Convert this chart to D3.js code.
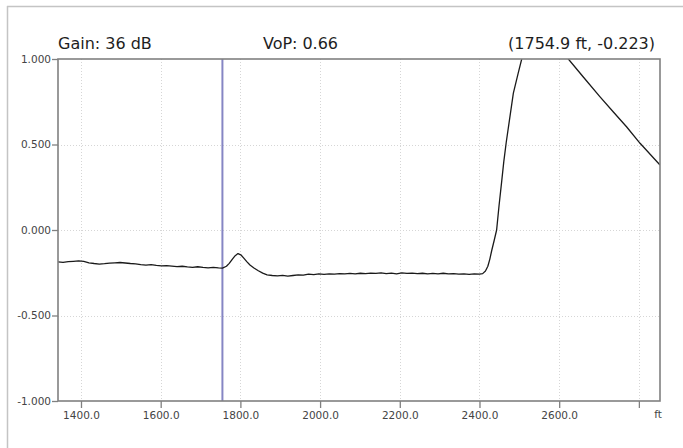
<!DOCTYPE html>
<html>
<head>
<meta charset="utf-8">
<script src="https://cdn.jsdelivr.net/npm/d3@7"></script>
<style>
  html, body { margin: 0; padding: 0; background: #fff; }
  svg { display: block; font-family: "DejaVu Sans", sans-serif; }
</style>
</head>
<body>
<svg id="chart" width="683" height="448"></svg>
<script>
// ---- data ----
const distanceFt = [
  1342, 1355, 1368, 1381, 1394, 1407, 1420, 1433, 1446, 1459, 1472, 1485, 1498, 1511, 1524, 1537,
  1550, 1563, 1576, 1589, 1602, 1615, 1628, 1641, 1654, 1667, 1680, 1693, 1706, 1719, 1732, 1745, 1755,
  1765, 1772, 1780, 1787, 1794, 1801, 1808, 1816, 1824, 1834, 1845, 1856, 1867, 1880, 1893, 1906,
  1919, 1932, 1945, 1958, 1971, 1984, 1997, 2010, 2023, 2036, 2049, 2062, 2075, 2088, 2101, 2114,
  2127, 2140, 2153, 2166, 2179, 2192, 2205, 2218, 2231, 2244, 2257, 2270, 2283, 2296, 2309, 2322,
  2335, 2348, 2361, 2374, 2387, 2400, 2408, 2415, 2421, 2426, 2431, 2437, 2443, 2449, 2456, 2461,
  2467, 2475, 2485, 2497, 2506, 2520, 2540, 2560, 2580, 2600, 2623, 2660, 2702, 2736, 2769, 2803, 2853
];
const amplitude = [
  -0.186, -0.189, -0.185, -0.183, -0.181, -0.184, -0.192, -0.196, -0.199, -0.197, -0.194, -0.192, -0.190, -0.193, -0.196, -0.198,
  -0.202, -0.205, -0.203, -0.207, -0.210, -0.208, -0.211, -0.214, -0.212, -0.216, -0.218, -0.215, -0.219, -0.221, -0.218, -0.222, -0.223,
  -0.212, -0.195, -0.170, -0.150, -0.138, -0.145, -0.163, -0.185, -0.205, -0.222, -0.238, -0.252, -0.262, -0.266, -0.268, -0.265,
  -0.270, -0.266, -0.262, -0.264, -0.258, -0.261, -0.257, -0.259, -0.256, -0.258, -0.255, -0.257, -0.254, -0.256, -0.253, -0.255,
  -0.252, -0.254, -0.251, -0.255, -0.252, -0.256, -0.251, -0.254, -0.252, -0.255, -0.253, -0.257, -0.254, -0.256, -0.253, -0.257,
  -0.255, -0.258, -0.256, -0.259, -0.257, -0.258, -0.255, -0.240, -0.212, -0.170, -0.117, -0.060, 0.000, 0.140, 0.290, 0.400,
  0.510, 0.640, 0.800, 0.916, 1.000, 1.100, 1.200, 1.240, 1.200, 1.120, 1.000, 0.896, 0.780, 0.690, 0.604, 0.507, 0.380
];
const xTickValues = [1400, 1600, 1800, 2000, 2200, 2400, 2600, 2800];
const xTickLabels = ["1400.0", "1600.0", "1800.0", "2000.0", "2200.0", "2400.0", "2600.0", ""];
const yTickValues = [1, 0.5, 0, -0.5, -1];
const yTickLabels = ["1.000", "0.500", "0.000", "-0.500", "-1.000"];
const yGridValues = [0.5, 0, -0.5];
const cursorFt = 1754.9;
const cursorValue = -0.223;
const gainLabel = "Gain: 36 dB";
const vopLabel = "VoP: 0.66";
const unitLabel = "ft";

// ---- layout ----
const svg = d3.select("#chart");
const L = 58, R = 660, T = 59, B = 401;
const x = d3.scaleLinear().domain([1342.3, 2853]).range([L, R]);
const y = d3.scaleLinear().domain([-1, 1]).range([B, T]);

// outer frame
svg.append("line").attr("x1", 7).attr("x2", 683).attr("y1", 6.5).attr("y2", 6.5)
  .attr("stroke", "#c4c4c4").attr("stroke-width", 1.5);
svg.append("line").attr("x1", 7.5).attr("x2", 7.5).attr("y1", 6).attr("y2", 448)
  .attr("stroke", "#c4c4c4").attr("stroke-width", 1.5);

// grid
const grid = svg.append("g").attr("stroke", "#d6d6d6").attr("stroke-width", 1).attr("stroke-dasharray", "1,2");
grid.selectAll("line.v").data(xTickValues).join("line").attr("class", "v")
  .attr("x1", d => Math.round(x(d)) + 0.5).attr("x2", d => Math.round(x(d)) + 0.5)
  .attr("y1", T).attr("y2", B);
grid.selectAll("line.h").data(yGridValues).join("line").attr("class", "h")
  .attr("x1", L).attr("x2", R)
  .attr("y1", d => Math.round(y(d)) + 0.5).attr("y2", d => Math.round(y(d)) + 0.5);

// clip
svg.append("defs").append("clipPath").attr("id", "plotclip")
  .append("rect").attr("x", L).attr("y", T).attr("width", R - L).attr("height", B - T);

// cursor
svg.append("line")
  .attr("x1", x(cursorFt)).attr("x2", x(cursorFt)).attr("y1", T).attr("y2", B)
  .attr("stroke", "#8686c4").attr("stroke-width", 2);

// trace
const pts = distanceFt.map((d, i) => [d, amplitude[i]]);
svg.append("path")
  .datum(pts)
  .attr("clip-path", "url(#plotclip)")
  .attr("fill", "none")
  .attr("stroke", "#1a1a1a")
  .attr("stroke-width", 1.3)
  .attr("stroke-linejoin", "round")
  .attr("d", d3.line().x(d => x(d[0])).y(d => y(d[1])));

// plot border
svg.append("rect").attr("x", L).attr("y", T).attr("width", R - L).attr("height", B - T)
  .attr("fill", "none").attr("stroke", "#808080").attr("stroke-width", 1.6);

// axes
const yAxis = d3.axisLeft(y).tickValues(yTickValues)
  .tickFormat((d, i) => yTickLabels[i]).tickSize(6).tickPadding(1);
const gy = svg.append("g").attr("transform", `translate(${L},0)`).call(yAxis);
gy.select(".domain").remove();
gy.selectAll(".tick line").attr("stroke", "#808080").attr("stroke-width", 1.3);
gy.selectAll(".tick text").attr("fill", "#444").attr("font-size", 10.5)
  .attr("font-family", "DejaVu Sans, sans-serif");

const xAxis = d3.axisBottom(x).tickValues(xTickValues)
  .tickFormat((d, i) => xTickLabels[i]).tickSize(7).tickPadding(4);
const gx = svg.append("g").attr("transform", `translate(0,${B})`).call(xAxis);
gx.select(".domain").remove();
gx.selectAll(".tick line").attr("stroke", "#808080").attr("stroke-width", 1.3);
gx.selectAll(".tick text").attr("fill", "#444").attr("font-size", 10.5)
  .attr("font-family", "DejaVu Sans, sans-serif");

svg.append("text").attr("x", 658).attr("y", 417.5).attr("text-anchor", "middle")
  .attr("font-size", 10.5).attr("fill", "#444").text(unitLabel);

// header
const header = svg.append("g").attr("font-size", 16).attr("fill", "#1e1e1e");
header.append("text").attr("x", 58).attr("y", 48.5).text(gainLabel);
header.append("text").attr("x", 263).attr("y", 48.5).attr("textLength", 75).text(vopLabel);
header.append("text").attr("x", 655).attr("y", 48.5).attr("text-anchor", "end")
  .text(`(${cursorFt.toFixed(1)} ft, ${cursorValue.toFixed(3)})`);
</script>
</body>
</html>
